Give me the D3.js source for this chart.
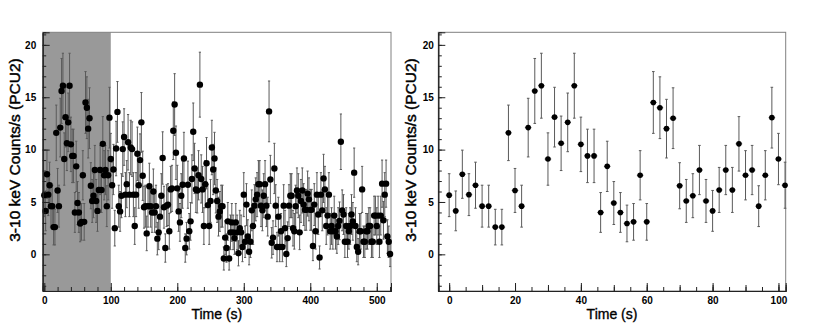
<!DOCTYPE html>
<html>
<head>
<meta charset="utf-8">
<script src="https://cdn.jsdelivr.net/npm/d3@7"></script>
<style>
  html, body { margin: 0; padding: 0; background: #fff; }
  svg { display: block; }
  text { font-family: "Liberation Sans", Arial, Helvetica, sans-serif; fill: #000; }
</style>
</head>
<body>
<svg id="chart" width="830" height="327"></svg>
<script>
// ---------------- DATA ----------------
const binStart = 0;      // s, centre of first 2-s bin
const binWidth = 2;      // s
// 3-10 keV count rate per 2-s bin (PCU2), bins centred at 0,2,...,520 s
const rate = [
  // 0 - 102 s (also shown in the right-hand zoom)
  5.65, 4.15, 7.65, 5.7, 6.6, 4.6, 4.6, 2.6, 2.6, 11.6,
  6.1, 4.6, 12.1, 15.6, 16.1, 9.1, 13.1, 10.6, 12.6, 16.1,
  10.5, 9.4, 9.4, 4.0, 8.4, 4.9, 4.0, 2.95, 3.1, 7.55,
  3.1, 14.5, 14.0, 12.0, 13.0, 6.55, 5.1, 5.6, 8.05, 5.1,
  4.15, 6.15, 8.05, 6.15, 10.55, 7.55, 8.05, 4.6, 7.55, 13.05,
  9.1, 6.6,
  // 104 - 234 s
  8.1, 2.5, 10.1, 13.6, 4.6, 4.1, 5.6, 10.05, 11.2, 5.7,
  6.7, 10.7, 5.7, 10.2, 10.05, 5.7, 2.7, 5.7, 9.6, 6.6,
  9.0, 12.6, 7.5, 4.5, 4.6, 2.0, 4.6, 6.5, 4.6, 4.0,
  6.0, 4.0, 4.6, 1.5, 2.1, 3.6, 5.6, 9.2, 4.5, 0.6,
  4.65, 4.75, 2.2, 6.2, 6.3, 11.8, 14.3, 9.7, 6.3, 4.1,
  3.05, 5.6, 6.65, 9.15, 0.6, 1.5, 6.65, 2.2, 3.15, 7.2,
  11.7, 8.2, 6.2, 6.1, 7.55, 16.2,
  // 236 - 382 s
  7.2, 6.2, 2.7, 6.7, 8.7, 4.7, 2.7, 5.1, 10.2, 8.1,
  9.15, 6.1, 5.1, 3.6, 4.1, 4.6, 4.6, -0.4, 1.6, 0.6,
  3.15, -0.4, 2.1, 3.05, 2.1, 1.55, 3.05, 2.1, 0.1, 2.5,
  2.1, 0.7, 5.7, 1.2, 4.75, 1.7, 0.25, 1.2, 4.2, 2.7,
  4.65, 5.25, 5.7, 6.7, 6.7, 4.65, 4.2, 5.6, 6.7, 4.65,
  3.6, 13.65, 7.15, 1.1, 1.6, 8.2, 4.65, 0.7, 3.6, 0.7,
  2.2, 0.7, 4.65, 2.5, 0.03, 1.55, 4.65, 5.6, 5.6, 2.5,
  2.2, 4.6, 6.1, 5.6,
  // 384 - 520 s
  2.1, 5.1, 6.1, 4.75, 4.25, 4.25, 5.8, 5.25, 4.25, 4.25,
  0.8, 4.75, 2.2, 5.7, 3.8, -0.3, 5.7, 4.2, 7.25, 6.2,
  2.7, 3.7, 5.7, 2.2, 2.7, 2.2, 3.7, 2.2, 1.7, 2.7,
  3.2, 10.75, 4.2, 3.8, 1.2, 2.7, 1.2, 2.2, 2.7, 3.8,
  3.15, 7.8, 2.7, 0.7, 0.25, 2.2, 2.2, 6.2, 1.2, 1.2,
  2.2, 2.2, 2.7, 2.7, 1.2, 1.2, 3.7, 3.7, 2.7, 3.7,
  1.2, 3.7, 6.75, 3.25, 5.7, 6.75, 1.7, 1.2, 0.03
];
// 1-sigma errors on the rate
const rateErr = [
  2.05, 1.9, 2.3, 2.0, 2.2, 2.0, 2.0, 1.7, 1.7, 2.65,
  2.1, 2.0, 2.8, 3.1, 3.1, 2.5, 2.85, 2.6, 2.8, 3.1,
  2.6, 2.55, 2.55, 1.9, 2.4, 2.05, 1.9, 1.75, 1.75, 2.35,
  1.75, 2.95, 2.95, 2.8, 2.9, 2.2, 2.05, 2.1, 2.35, 2.05,
  1.95, 2.15, 2.35, 2.15, 2.6, 2.35, 2.35, 1.95, 2.35, 2.9,
  2.45, 2.2,
  2.4, 1.7, 2.6, 2.9, 2.0, 1.9, 2.1, 2.6, 2.7, 2.1,
  2.25, 2.65, 2.1, 2.6, 2.6, 2.1, 1.75, 2.1, 2.55, 2.2,
  2.5, 2.85, 2.35, 2.0, 2.0, 1.65, 2.0, 2.2, 2.0, 1.9,
  2.15, 1.9, 2.0, 1.55, 1.65, 1.85, 2.1, 2.5, 2.0, 1.35,
  2.0, 2.0, 1.7, 2.2, 2.2, 2.75, 2.95, 2.55, 2.2, 1.9,
  1.8, 2.1, 2.25, 2.5, 1.35, 1.55, 2.25, 1.7, 1.8, 2.3,
  2.75, 2.4, 2.2, 2.15, 2.35, 3.1,
  2.3, 2.2, 1.75, 2.25, 2.45, 2.0, 1.75, 2.05, 2.6, 2.4,
  2.5, 2.15, 2.05, 1.85, 1.9, 2.0, 2.0, 1.1, 1.6, 1.35,
  1.8, 1.1, 1.65, 1.8, 1.65, 1.55, 1.8, 1.65, 1.2, 1.7,
  1.65, 1.4, 2.1, 1.5, 2.0, 1.6, 1.25, 1.5, 1.95, 1.75,
  2.0, 2.05, 2.1, 2.25, 2.25, 2.0, 1.95, 2.1, 2.25, 2.0,
  1.85, 2.9, 2.3, 1.45, 1.6, 2.4, 2.0, 1.4, 1.85, 1.4,
  1.7, 1.4, 2.0, 1.7, 1.2, 1.55, 2.0, 2.1, 2.1, 1.7,
  1.7, 2.0, 2.15, 2.1,
  1.65, 2.05, 2.15, 2.0, 1.95, 1.95, 2.15, 2.05, 1.95, 1.95,
  1.4, 2.0, 1.7, 2.1, 1.9, 1.1, 2.1, 1.95, 2.3, 2.2,
  1.75, 1.85, 2.1, 1.7, 1.75, 1.7, 1.85, 1.7, 1.6, 1.75,
  1.8, 2.65, 1.95, 1.9, 1.5, 1.75, 1.5, 1.7, 1.75, 1.9,
  1.8, 2.35, 1.75, 1.4, 1.25, 1.7, 1.7, 2.2, 1.5, 1.5,
  1.7, 1.7, 1.75, 1.75, 1.5, 1.5, 1.85, 1.85, 1.75, 1.85,
  1.5, 1.85, 2.25, 1.8, 2.1, 2.25, 1.6, 1.5, 1.2
];
const shadedEnd = 100;                 // highlighted first 100 s (from frame edge)
const zoomEnd = 102;                   // right panel shows bins up to 102 s
const xTicksLeft = [0, 100, 200, 300, 400, 500];
const xTicksRight = [0, 20, 40, 60, 80, 100];
const yTicks = [0, 5, 10, 15, 20];
const yLabel = "3-10 keV Counts/s (PCU2)";
const xLabel = "Time (s)";

// ---------------- BUILD ----------------
const points = rate.map((v, i) => ({ t: binStart + i * binWidth, v, e: rateErr[i] }));

const svg = d3.select("#chart");
svg.append("rect").attr("width", 830).attr("height", 327).attr("fill", "#fff");

const yDomain = [-3.5, 21.2];
const plotTop = 32.3, plotBottom = 291;

const panels = [
  {
    xDomain: [-2.4, 521.4], xRange: [42.7, 391],
    data: points, r: 3.2, cap: 1.1, xErrVisible: false,
    majorX: xTicksLeft, minorStep: 20, midStep: null,
    shade: true, yLabelX: 14.7, yTickPad: 6.5
  },
  {
    xDomain: [-3.3, 102.2], xRange: [438.3, 785.7],
    data: points.filter(d => d.t <= zoomEnd), r: 2.8, cap: 1.3, xErrVisible: true,
    majorX: xTicksRight, minorStep: 5, midStep: 10,
    shade: false, yLabelX: 410, yTickPad: 4.5
  }
];

panels.forEach(p => {
  const x = d3.scaleLinear().domain(p.xDomain).range(p.xRange);
  const y = d3.scaleLinear().domain(yDomain).range([plotBottom, plotTop]);
  const g = svg.append("g");

  if (p.shade) {
    g.append("rect")
      .attr("x", x(p.xDomain[0])).attr("y", plotTop)
      .attr("width", x(shadedEnd) - x(p.xDomain[0]))
      .attr("height", plotBottom - plotTop)
      .attr("fill", "#999999");
  }

  // frame
  g.append("rect")
    .attr("x", p.xRange[0]).attr("y", plotTop)
    .attr("width", p.xRange[1] - p.xRange[0]).attr("height", plotBottom - plotTop)
    .attr("fill", "none").attr("stroke", "#808080").attr("stroke-width", 1);

  // error bars
  const eb = g.append("g").attr("stroke", "#5a5a5a").attr("stroke-width", 1).attr("fill", "none");
  p.data.forEach(d => {
    const cx = x(d.t), y1 = y(d.v + d.e), y2 = y(d.v - d.e);
    eb.append("line").attr("x1", cx).attr("x2", cx).attr("y1", y1).attr("y2", y2);
    eb.append("line").attr("x1", cx - p.cap).attr("x2", cx + p.cap).attr("y1", y1).attr("y2", y1);
    eb.append("line").attr("x1", cx - p.cap).attr("x2", cx + p.cap).attr("y1", y2).attr("y2", y2);
    if (p.xErrVisible) {
      const xl = x(d.t - binWidth / 2), xr = Math.min(x(d.t + binWidth / 2), p.xRange[1]);
      eb.append("line").attr("x1", xl).attr("x2", xr).attr("y1", y(d.v)).attr("y2", y(d.v));
    }
  });

  // markers
  g.append("g").selectAll("circle").data(p.data).join("circle")
    .attr("cx", d => x(d.t)).attr("cy", d => y(d.v)).attr("r", p.r)
    .attr("fill", "#000");

  // x axis: minor, mid, major ticks pointing up
  const minorVals = d3.range(0, p.xDomain[1] + 0.001, p.minorStep).filter(v => v >= p.xDomain[0]);
  const ax = g.append("g").attr("transform", `translate(0,${plotBottom})`);
  ax.call(d3.axisBottom(x).tickValues(minorVals).tickSize(-4).tickFormat(""));
  if (p.midStep) {
    const midVals = d3.range(0, p.xDomain[1] + 0.001, p.midStep);
    ax.append("g").call(d3.axisBottom(x).tickValues(midVals).tickSize(-6).tickFormat(""));
  }
  const axMaj = ax.append("g").call(d3.axisBottom(x).tickValues(p.majorX).tickSize(-8).tickPadding(5.5).tickFormat(d3.format("d")));
  ax.selectAll(".domain").attr("stroke", "#222");
  ax.selectAll(".tick line").attr("stroke", "#222");
  axMaj.selectAll("text").attr("font-size", 10).attr("font-weight", "bold")
    .attr("font-family", '"Liberation Sans", Arial, sans-serif');

  // y axis: minor every 1, major every 5, pointing right
  const yMinor = d3.range(-3, 21.01, 1);
  const ay = g.append("g").attr("transform", `translate(${p.xRange[0]},0)`);
  ay.call(d3.axisLeft(y).tickValues(yMinor).tickSize(-3.5).tickFormat(""));
  const ayMaj = ay.append("g").call(d3.axisLeft(y).tickValues(yTicks).tickSize(-7).tickPadding(p.yTickPad).tickFormat(d3.format("d")));
  ay.selectAll(".domain").attr("stroke", "#222");
  ay.selectAll(".tick line").attr("stroke", "#222");
  ayMaj.selectAll("text").attr("font-size", 10).attr("font-weight", "bold")
    .attr("font-family", '"Liberation Sans", Arial, sans-serif');

  // axis titles
  g.append("text")
    .attr("x", (p.xRange[0] + p.xRange[1]) / 2).attr("y", 319)
    .attr("text-anchor", "middle").attr("font-size", 14)
    .attr("stroke", "#000").attr("stroke-width", 0.35)
    .text(xLabel);
  g.append("text")
    .attr("transform", `translate(${p.yLabelX},150) rotate(-90)`)
    .attr("text-anchor", "middle").attr("dominant-baseline", "central")
    .attr("font-size", 15.5)
    .attr("stroke", "#000").attr("stroke-width", 0.45)
    .text(yLabel);
});
</script>
</body>
</html>
